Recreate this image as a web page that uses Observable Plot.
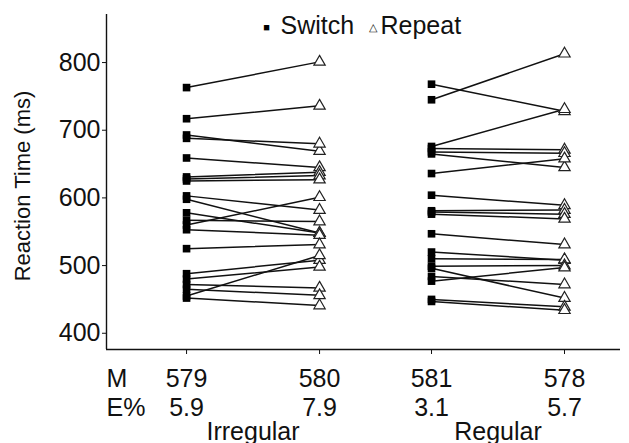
<!DOCTYPE html>
<html>
<head>
<meta charset="utf-8">
<script src="https://cdn.jsdelivr.net/npm/d3@7"></script>
<script src="https://cdn.jsdelivr.net/npm/@observablehq/plot@0.6"></script>
<style>
  html, body { margin: 0; padding: 0; background: #fff; }
</style>
</head>
<body>
<div id="chart"></div>
<script>
// ---- data ----
const groups = ["Irregular", "Regular"];
const conditions = ["Switch", "Repeat"];
const irregularSwitch = [763, 717, 693, 688, 659, 631, 628, 625, 603, 598, 560, 578, 567, 553, 525, 488, 480, 472, 465, 455, 452];
const irregularRepeat = [801, 736, 669, 680, 645, 638, 633, 627, 582, 548, 601, 548, 565, 545, 531, 508, 498, 467, 456, 515, 441];
const regularSwitch   = [768, 745, 676, 673, 668, 665, 636, 604, 581, 579, 576, 547, 520, 510, 499, 496, 484, 477, 450, 447];
const regularRepeat   = [728, 813, 731, 671, 666, 645, 658, 589, 582, 576, 569, 531, 508, 509, 500, 452, 472, 497, 439, 434];
const meanRT   = [579, 580, 581, 578];      // Irregular S, Irregular R, Regular S, Regular R
const errorPct = ["5.9", "7.9", "3.1", "5.7"];
const yTicks = [400, 500, 600, 700, 800];
const yLabel = "Reaction Time (ms)";
const rowLabels = ["M", "E%"];

// ---- layout helpers ----
const groupStep = 1.842;               // distance between group origins in x units
const xOf = (g, c) => g * groupStep + c;
const series = [[irregularSwitch, irregularRepeat], [regularSwitch, regularRepeat]];
const rows = [];
series.forEach((pair, g) => {
  pair.forEach((vals, c) => {
    vals.forEach((v, i) => rows.push({group: groups[g], subject: groups[g] + i, cond: conditions[c], x: xOf(g, c), rt: v}));
  });
});
const cols = [];
groups.forEach((grp, g) => conditions.forEach((cond, c) => cols.push({x: xOf(g, c), m: meanRT[g * 2 + c], e: errorPct[g * 2 + c]})));
const groupCenters = groups.map((grp, g) => ({x: xOf(g, 0.5), label: grp}));

const font = "'Liberation Sans', Arial, sans-serif";
const fs = 25;
const ink = "#111";

const chart = Plot.plot({
  width: 629,
  height: 443,
  marginLeft: 106,
  marginRight: 9,
  marginTop: 14,
  marginBottom: 94,
  style: {fontFamily: font, background: "#fff", color: ink},
  x: {domain: [-0.602, 3.263], axis: null},
  y: {domain: [376, 871], axis: null},
  marks: [
    Plot.axisY({ticks: yTicks, tickSize: 4, tickPadding: 2, fontSize: fs, label: null, stroke: ink}),
    Plot.axisX({ticks: cols.map(d => d.x), tickFormat: () => "", tickSize: 5, label: null, stroke: ink}),
    Plot.ruleX([-0.602], {stroke: ink, strokeWidth: 1.4}),
    Plot.ruleY([376], {stroke: ink, strokeWidth: 1.4}),
    Plot.line(rows, {x: "x", y: "rt", z: "subject", stroke: ink, strokeWidth: 1.5}),
    Plot.dot(rows.filter(d => d.cond === "Switch"), {x: "x", y: "rt", symbol: "square", r: 4.3, fill: "#000", stroke: "none"}),
    Plot.dot(rows.filter(d => d.cond === "Repeat"), {x: "x", y: "rt", symbol: "triangle", r: 4.2, fill: "#fff", stroke: "#222", strokeWidth: 1.2}),
    // bottom table
    Plot.text(cols, {x: "x", frameAnchor: "bottom", lineAnchor: "middle", textAnchor: "middle", dy: 29, text: d => String(d.m), fontSize: fs, fill: ink}),
    Plot.text(cols, {x: "x", frameAnchor: "bottom", lineAnchor: "middle", textAnchor: "middle", dy: 58, text: "e", fontSize: fs, fill: ink}),
    Plot.text(groupCenters, {x: "x", frameAnchor: "bottom", lineAnchor: "middle", textAnchor: "middle", dy: 82, text: "label", fontSize: fs, fill: ink}),
    Plot.text([rowLabels[0]], {frameAnchor: "bottom-left", lineAnchor: "middle", textAnchor: "start", dy: 29, fontSize: fs, fill: ink}),
    Plot.text([rowLabels[1]], {frameAnchor: "bottom-left", lineAnchor: "middle", textAnchor: "start", dy: 58, fontSize: fs, fill: ink}),
    // y label
    Plot.text([yLabel], {frameAnchor: "left", textAnchor: "middle", lineAnchor: "middle", rotate: -90, dx: -84, dy: 4, fontSize: 22, fill: ink}),
    // legend
    Plot.text(["■"], {frameAnchor: "top-left", textAnchor: "middle", lineAnchor: "middle", dx: 160, dy: 13, fontSize: 11, fill: "#000"}),
    Plot.text([conditions[0]], {frameAnchor: "top-left", textAnchor: "start", lineAnchor: "middle", dx: 174, dy: 11, fontSize: fs, fill: ink}),
    Plot.text(["△"], {frameAnchor: "top-left", textAnchor: "middle", lineAnchor: "middle", dx: 266, dy: 13, fontSize: 11, fill: ink}),
    Plot.text([conditions[1]], {frameAnchor: "top-left", textAnchor: "start", lineAnchor: "middle", dx: 274, dy: 11, fontSize: fs, fill: ink})
  ]
});
document.getElementById("chart").appendChild(chart);
</script>
</body>
</html>
